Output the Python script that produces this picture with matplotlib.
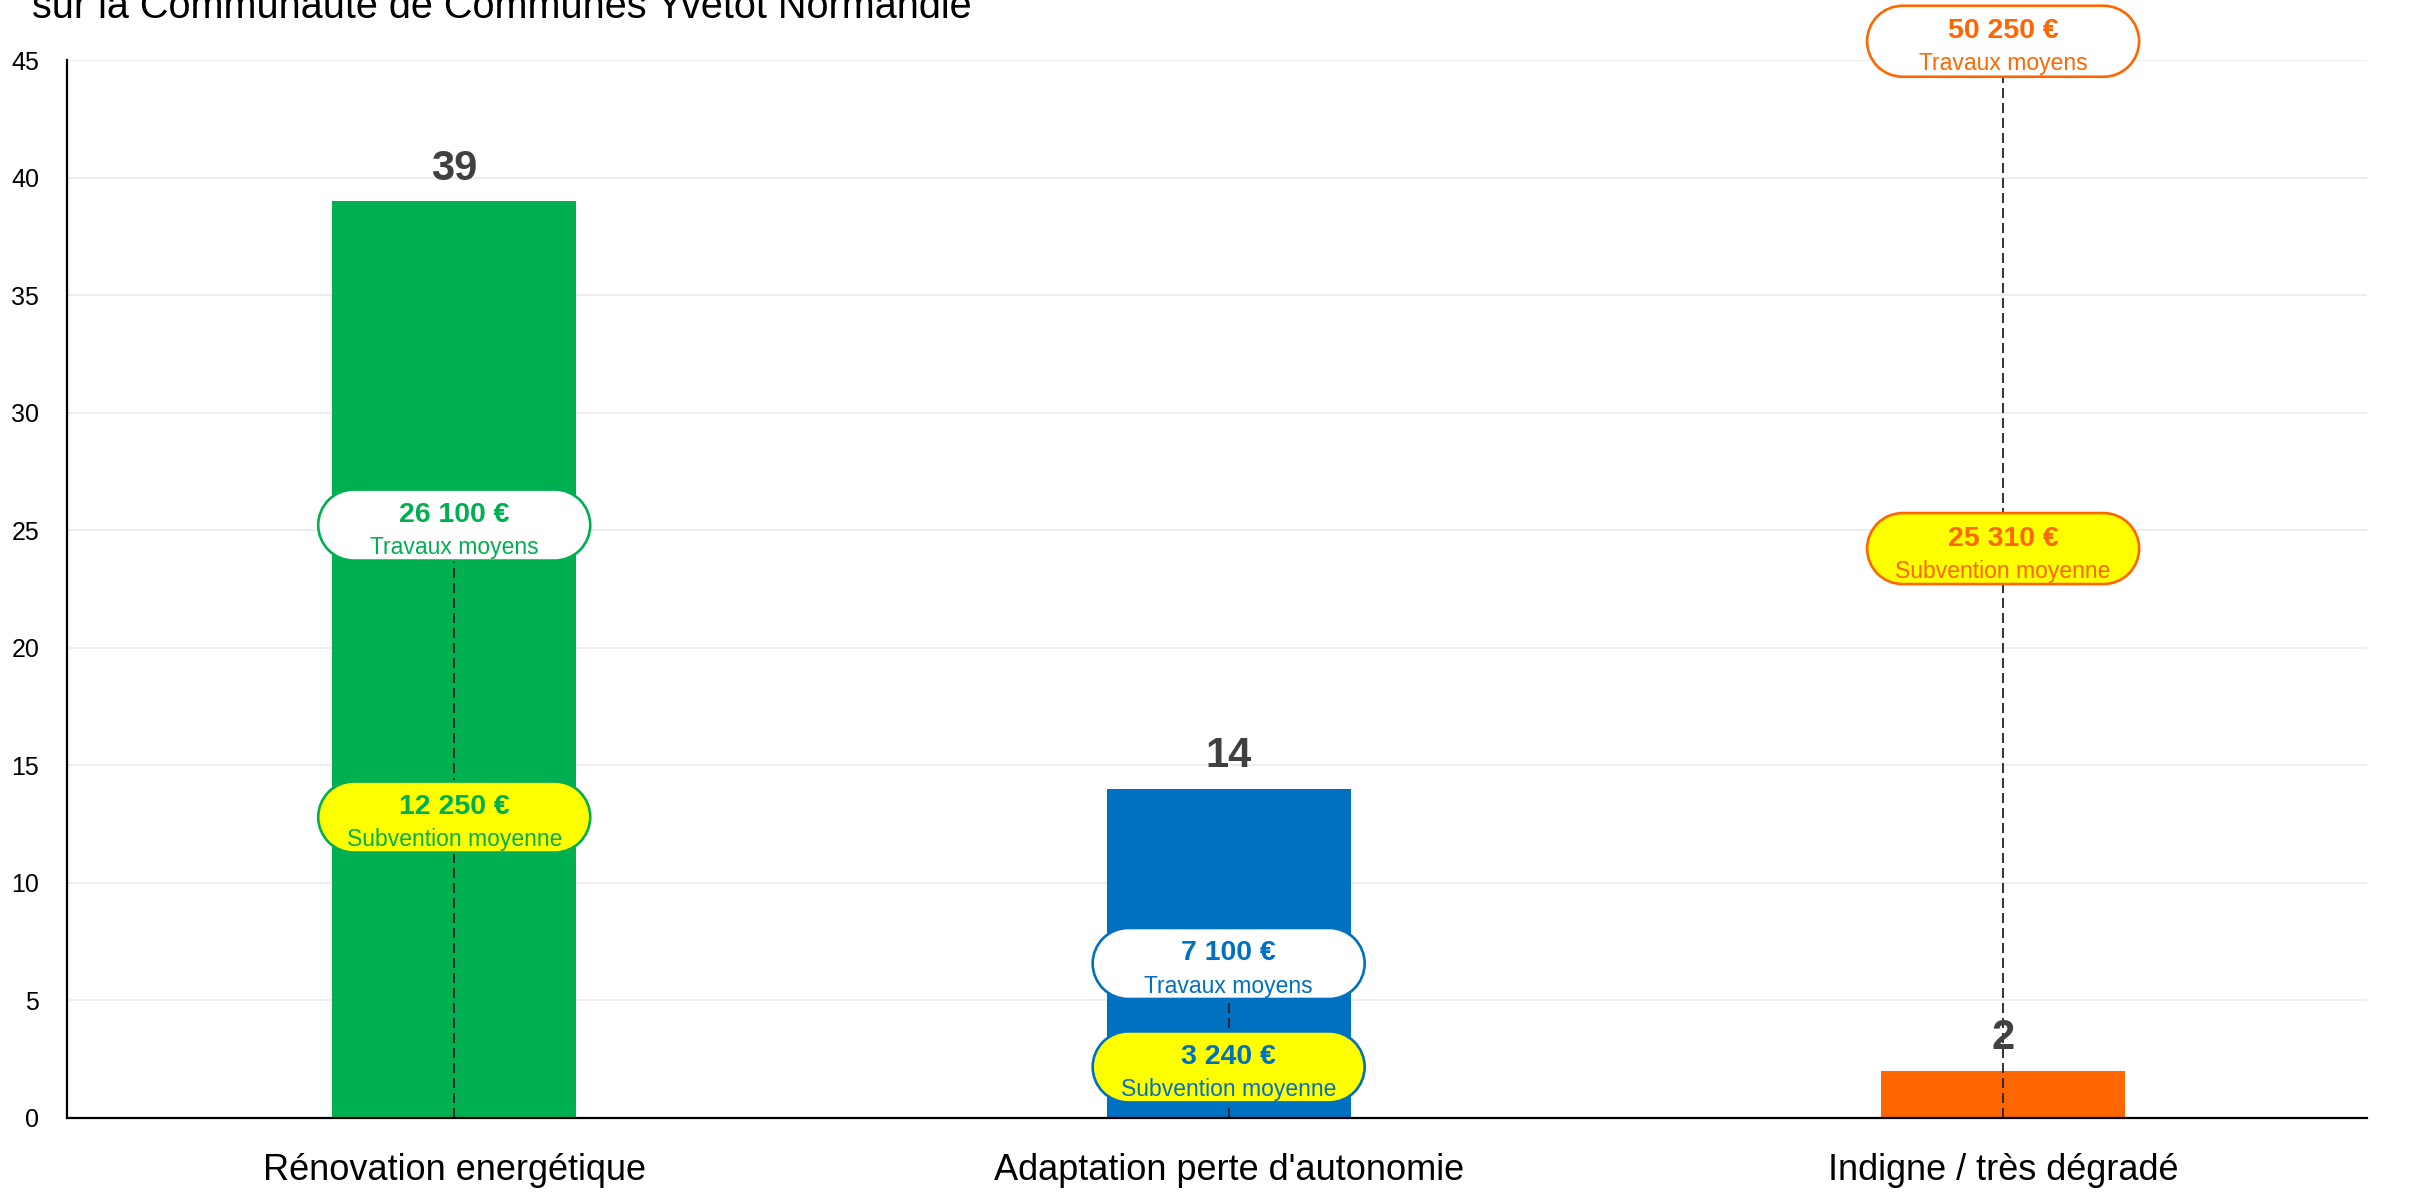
import matplotlib
matplotlib.use("Agg")
import numpy as np
import matplotlib.pyplot as plt
from matplotlib import font_manager
from matplotlib.patches import PathPatch
from matplotlib.path import Path
from matplotlib.transforms import ScaledTranslation

categories = ["Rénovation energétique", "Adaptation perte d'autonomie", "Indigne / très dégradé"]
counts = [39, 14, 2]
travaux = [26100, 7100, 50250]
subventions = [12250, 3240, 25310]
colors = ["#00B050", "#0070C0", "#FF6600"]

# vertical placement of the two label pills for each category (axis units)
travaux_pos = [25.22, 6.57, 45.8]
subvention_pos = [12.8, 2.17, 24.22]

names = {f.name for f in font_manager.fontManager.ttflist}
if "Liberation Sans Narrow" in names:
    plt.rcParams["font.family"] = ["Liberation Sans Narrow", "DejaVu Sans"]
else:
    plt.rcParams["font.family"] = ["Liberation Sans", "DejaVu Sans"]
plt.rcParams["lines.scale_dashes"] = False


def euro(v):
    return f"{v:,}".replace(",", " ") + " €"


def pill_path(w, h):
    # rectangle with semicircular ends, centred on the origin
    r = h / 2
    left = Path.arc(90, 270)
    right = Path.arc(-90, 90)
    verts = np.concatenate([left.vertices * r + [-w / 2 + r, 0],
                            right.vertices * r + [w / 2 - r, 0],
                            [[0, 0]]])
    codes = np.concatenate([left.codes, right.codes, [Path.CLOSEPOLY]])
    codes[len(left.codes)] = Path.LINETO
    return Path(verts, codes)


fig = plt.figure(figsize=(24.1, 11.94), dpi=100)
ax = fig.add_axes([0.0278, 0.0637, 0.9544, 0.886])

x = list(range(len(categories)))
bars = ax.bar(x, counts, width=0.315, color=colors, zorder=2)

ax.set_xlim(-0.5, 2.47)
ax.set_ylim(0, 45)
ax.set_yticks(range(0, 46, 5))
ax.set_xticks(x)
ax.set_xticklabels(categories, fontsize=26)
ax.tick_params(axis="y", labelsize=18, length=0, pad=20)
ax.tick_params(axis="x", length=0, pad=25)
ax.grid(axis="y", color="#ececec", lw=1.3, zorder=0)
for s in ["top", "right"]:
    ax.spines[s].set_visible(False)
for s in ["left", "bottom"]:
    ax.spines[s].set_linewidth(1.6)
    ax.spines[s].set_color("black")
    ax.spines[s].set_zorder(5)

# counts above bars
for xi, c in zip(x, counts):
    ax.annotate(str(c), (xi, c), xytext=(0, 15.5), textcoords="offset points",
                ha="center", va="baseline", fontsize=30, fontweight="bold",
                color="#404040", zorder=6, annotation_clip=False)

box_path = pill_path(2.72, 0.71)


def pill(xc, yc, top, bottom, edge, face):
    tr = fig.dpi_scale_trans + ScaledTranslation(xc, yc, ax.transData)
    p = PathPatch(box_path, transform=tr, facecolor=face, edgecolor=edge,
                  lw=1.9, zorder=7, clip_on=False)
    ax.add_artist(p)
    ax.annotate(top, (xc, yc), xytext=(0, 2.2), textcoords="offset points",
                ha="center", va="baseline", fontsize=20.5, fontweight="bold",
                color=edge, zorder=8, annotation_clip=False)
    ax.annotate(bottom, (xc, yc), xytext=(0, -20.9), textcoords="offset points",
                ha="center", va="baseline", fontsize=16.5,
                color=edge, zorder=8, annotation_clip=False)


for xi, col, tv, sv, ty, sy in zip(x, colors, travaux, subventions, travaux_pos, subvention_pos):
    ax.plot([xi, xi], [0, ty], color="#222222", lw=1.3, ls=(0, (7.2, 3.6)),
            zorder=4, clip_on=False)
    pill(xi, ty, euro(tv), "Travaux moyens", col, "white")
    pill(xi, sy, euro(sv), "Subvention moyenne", col, "#FFFF00")

fig.text(0.0133, 1 - 17.5 / 1194, "sur la Communauté de Communes Yvetot Normandie",
         fontsize=28.5, va="baseline", ha="left", color="black")

fig.savefig("out.png", dpi=100)
